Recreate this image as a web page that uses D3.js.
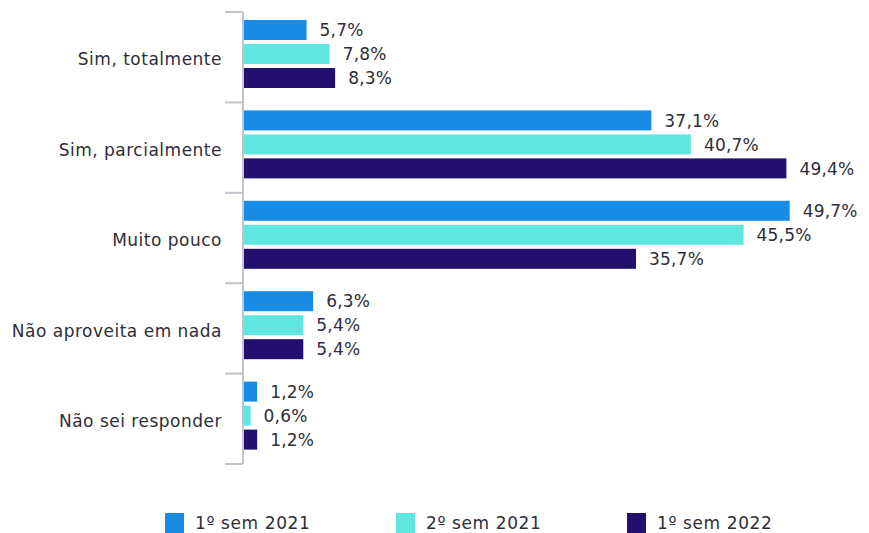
<!DOCTYPE html>
<html>
<head>
<meta charset="utf-8">
<script src="https://cdn.jsdelivr.net/npm/d3@7"></script>
<style>
  body { margin: 0; background: #fff; }
  svg text { font-family: "DejaVu Sans", sans-serif; fill: #2e2e38; }
</style>
</head>
<body>
<div id="chart"></div>
<script>
const categories = ["Sim, totalmente", "Sim, parcialmente", "Muito pouco", "Não aproveita em nada", "Não sei responder"]
const seriesNames = ["1º sem 2021", "2º sem 2021", "1º sem 2022"]
const sem1_2021 = [5.7, 37.1, 49.7, 6.3, 1.2]
const sem2_2021 = [7.8, 40.7, 45.5, 5.4, 0.6]
const sem1_2022 = [8.3, 49.4, 35.7, 5.4, 1.2]
const colors = ["#188ce5", "#60e6e1", "#23106e"]

const allSeries = [sem1_2021, sem2_2021, sem1_2022]

const width = 869
const height = 533
const axisX = 243

const svg = d3.select("#chart")
  .append("svg")
  .attr("width", width)
  .attr("height", height)

const yScale = d3.scaleBand()
  .domain(categories)
  .range([12, 464])

const innerScale = d3.scaleBand()
  .domain(seriesNames)
  .range([8, 76])
  .paddingInner(1 / 6)
  .paddingOuter(0)

const xScale = d3.scaleLinear()
  .domain([0, 50])
  .range([axisX + 1, axisX + 1 + 549])

const fmt = (v) => d3.format(".1f")(v).replace(".", ",") + "%"

// rows: one group per category
const rows = categories.map((c, i) => ({
  cat: c,
  vals: allSeries.map((s, j) => ({ name: seriesNames[j], v: s[i], color: colors[j] }))
}))

const g = svg.selectAll("g.row")
  .data(rows)
  .enter()
  .append("g")
  .attr("class", "row")
  .attr("transform", (d) => `translate(0,${yScale(d.cat)})`)

g.selectAll("rect")
  .data((d) => d.vals)
  .enter()
  .append("rect")
  .attr("x", xScale(0))
  .attr("y", (d) => innerScale(d.name))
  .attr("width", (d) => xScale(d.v) - xScale(0))
  .attr("height", innerScale.bandwidth())
  .attr("fill", (d) => d.color)

g.selectAll("text.val")
  .data((d) => d.vals)
  .enter()
  .append("text")
  .attr("class", "val")
  .attr("x", (d) => xScale(d.v) + 13)
  .attr("y", (d) => innerScale(d.name) + innerScale.bandwidth() / 2)
  .attr("dy", "0.36em")
  .style("font-size", "17px")
  .style("letter-spacing", "0.2px")
  .text((d) => fmt(d.v))

// category axis with ticks on band edges
const axisColor = "#c4c4cd"
svg.append("line")
  .attr("x1", axisX).attr("x2", axisX)
  .attr("y1", yScale.range()[0]).attr("y2", yScale.range()[1])
  .attr("stroke", axisColor).attr("stroke-width", 2)

const edges = categories.map((c) => yScale(c)).concat([yScale.range()[1]])
svg.selectAll("line.tick")
  .data(edges)
  .enter()
  .append("line")
  .attr("class", "tick")
  .attr("x1", axisX - 18).attr("x2", axisX)
  .attr("y1", (d) => d).attr("y2", (d) => d)
  .attr("stroke", axisColor).attr("stroke-width", 2)

svg.selectAll("text.cat")
  .data(categories)
  .enter()
  .append("text")
  .attr("class", "cat")
  .attr("x", 222)
  .attr("y", (d) => yScale(d) + yScale.bandwidth() / 2 + 2)
  .attr("dy", "0.36em")
  .attr("text-anchor", "end")
  .style("font-size", "17px")
  .style("letter-spacing", "0.5px")
  .text((d) => d)

// legend
const legendX = d3.scalePoint()
  .domain(seriesNames)
  .range([165, 627])

const lg = svg.selectAll("g.legend")
  .data(seriesNames)
  .enter()
  .append("g")
  .attr("class", "legend")
  .attr("transform", (d) => `translate(${legendX(d)},513)`)

lg.append("rect")
  .attr("width", 19)
  .attr("height", 20)
  .attr("fill", (d, i) => colors[i])

lg.append("text")
  .attr("x", 30)
  .attr("y", 10)
  .attr("dy", "0.36em")
  .style("font-size", "17px")
  .style("letter-spacing", "0.6px")
  .text((d) => d)
</script>
</body>
</html>
